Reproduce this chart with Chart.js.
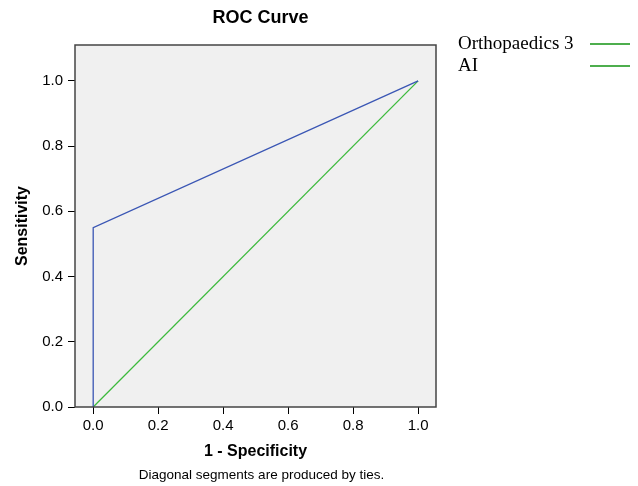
<!DOCTYPE html>
<html>
<head>
<meta charset="utf-8">
<script src="https://cdn.jsdelivr.net/npm/chart.js@4"></script>
<style>
html,body{margin:0;padding:0;background:#fff;}
#wrap{position:relative;width:638px;height:486px;}
</style>
</head>
<body>
<div id="wrap"><canvas id="c" width="638" height="486"></canvas></div>
<script>
// Data
const seriesNames = ["Orthopaedics 3", "AI"];
const orthoX = [0, 0, 1];
const orthoY = [0, 0.55, 1];
const aiX = [0, 1];
const aiY = [0, 1];
const tickValues = [0, 0.2, 0.4, 0.6, 0.8, 1.0];
const chartTitle = "ROC Curve";
const footNote = "Diagonal segments are produced by ties.";

const toPoints = (xs, ys) => xs.map((x, i) => ({x: x, y: ys[i]}));

const plotDeco = {
  id: 'plotDeco',
  beforeDraw(chart) {
    const {ctx, chartArea: a} = chart;
    ctx.save();
    ctx.fillStyle = '#f0f0f0';
    ctx.fillRect(a.left, a.top, a.right - a.left, a.bottom - a.top);
    ctx.restore();
  },
  afterDraw(chart) {
    const {ctx, chartArea: a} = chart;
    ctx.save();
    ctx.strokeStyle = '#444444';
    ctx.lineWidth = 1.5;
    ctx.strokeRect(a.left, a.top, a.right - a.left, a.bottom - a.top);
    const cx = (a.left + a.right) / 2 + 4;
    ctx.fillStyle = '#000';
    ctx.textAlign = 'center';
    ctx.textBaseline = 'middle';
    ctx.font = 'bold 18px "Liberation Sans", Arial, sans-serif';
    ctx.fillText(chartTitle, cx + 1, 18);
    ctx.font = '13.5px "Liberation Sans", Arial, sans-serif';
    ctx.fillText(footNote, cx + 2, 475);
    // legend
    ctx.font = '19px "Liberation Serif", "Times New Roman", serif';
    ctx.textAlign = 'left';
    const ys = [44, 66];
    seriesNames.forEach((n, i) => {
      ctx.fillStyle = '#000';
      ctx.fillText(n, 458, ys[i]);
      ctx.strokeStyle = '#129312';
      ctx.lineWidth = 1.5;
      ctx.beginPath();
      ctx.moveTo(590, ys[i]);
      ctx.lineTo(630, ys[i]);
      ctx.stroke();
    });
    ctx.restore();
  }
};

const setTicks = (scale) => { scale.ticks = tickValues.map(v => ({value: v})); };

new Chart(document.getElementById('c'), {
  type: 'scatter',
  data: {
    datasets: [
      {label: seriesNames[0], data: toPoints(orthoX, orthoY), showLine: true,
       borderColor: '#3a56b4', borderWidth: 1.3, pointRadius: 0, fill: false},
      {label: seriesNames[1], data: toPoints(aiX, aiY), showLine: true,
       borderColor: '#3cba3c', borderWidth: 1.3, pointRadius: 0, fill: false}
    ]
  },
  options: {
    responsive: false,
    animation: false,
    layout: {padding: {left: 0, right: 202, top: 45, bottom: 0}},
    plugins: {
      legend: {display: false},
      tooltip: {enabled: false},
      title: {display: false},
      subtitle: {display: false}
    },
    scales: {
      x: {
        type: 'linear', min: -0.056, max: 1.055,
        afterBuildTicks: setTicks,
        afterFit(s) { s.height = 79; },
        grid: {display: true, drawOnChartArea: false, drawTicks: true, tickLength: 7, color: '#000', tickColor: '#000'},
        border: {display: false},
        ticks: {color: '#000', padding: 3, font: {family: '"Liberation Sans", Arial, sans-serif', size: 15},
          callback: v => v.toFixed(1)},
        title: {display: true, text: '1 - Specificity', color: '#000',
          font: {family: '"Liberation Sans", Arial, sans-serif', size: 16, weight: 'bold'},
          padding: {top: 0, bottom: 25}}
      },
      y: {
        type: 'linear', min: 0, max: 1.11,
        afterBuildTicks: setTicks,
        afterFit(s) { s.width = 75; },
        grid: {display: true, drawOnChartArea: false, drawTicks: true, tickLength: 7, color: '#000', tickColor: '#000'},
        border: {display: false},
        ticks: {color: '#000', padding: 5, font: {family: '"Liberation Sans", Arial, sans-serif', size: 15},
          callback: v => v.toFixed(1)},
        title: {display: true, text: 'Sensitivity', color: '#000',
          font: {family: '"Liberation Sans", Arial, sans-serif', size: 16, weight: 'bold'},
          padding: {top: 13, bottom: 0}}
      }
    }
  },
  plugins: [plotDeco]
});
</script>
</body>
</html>
